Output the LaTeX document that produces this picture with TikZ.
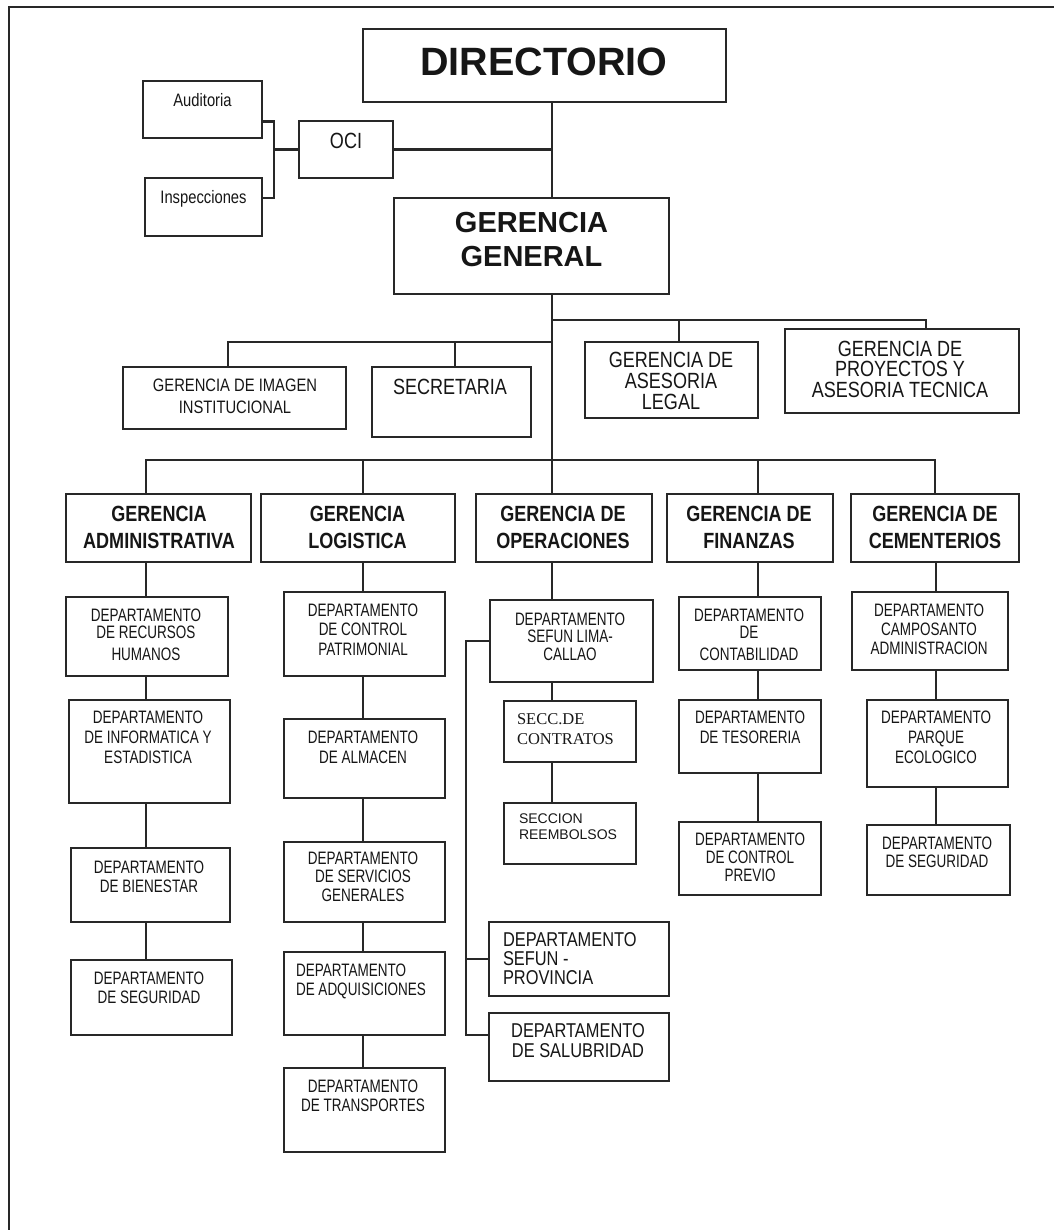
\documentclass[tikz,border=0pt]{standalone}
\usepackage{fontspec}
\usepackage{graphicx}
\setmainfont{Liberation Sans}
\newfontfamily\nar[FakeStretch=0.82]{Liberation Sans}
\newfontfamily\dnar[FakeStretch=0.75]{Liberation Sans}
\newfontfamily\ser{Liberation Serif}
\usetikzlibrary{fit}
\definecolor{lc}{RGB}{40,40,40}
\definecolor{tc}{RGB}{22,22,22}
\newcommand\fsz[2]{\fontsize{#1}{#2}\selectfont}
\newcommand\bx[5]{\node[box, fit={(#2,#3) (#4,#5)}] (#1) {};}
\begin{document}
\begin{tikzpicture}[x=1pt,y=-1pt,
  box/.style={draw=lc, line width=2.5pt, fill=white, inner sep=0pt, outer sep=0pt},
  conn/.style={draw=lc, line width=2.1pt},
  frame/.style={draw=lc, line width=2pt},
  txt/.style={inner sep=0pt, outer sep=0pt, text=tc, align=center, anchor=north},
  ltxt/.style={inner sep=0pt, outer sep=0pt, text=tc, align=left, anchor=north west},
  dept/.style={txt, font=\dnar\fsz{18}{19.5}},
  ger/.style={txt, font=\nar\bfseries\fsz{22}{27}}]
\useasboundingbox (0,0) rectangle (1054,1230);
\fill[white] (0,0) rectangle (1054,1230);
\draw[frame] (9,1230) -- (9,7) -- (1054,7);

% boxes
\bx{dir}{363}{29}{726}{102}
\bx{aud}{143}{81}{262}{138}
\bx{insp}{145}{178}{262}{236}
\bx{oci}{299}{121}{393}{178}
\bx{gg}{394}{198}{669}{294}
\bx{img}{123}{367}{346}{429}
\bx{sec}{372}{367}{531}{437}
\bx{leg}{585}{342}{758}{418}
\bx{proy}{785}{329}{1019}{413}
\bx{gadm}{66}{494}{251}{562}
\bx{glog}{261}{494}{455}{562}
\bx{gop}{476}{494}{652}{562}
\bx{gfin}{667}{494}{833}{562}
\bx{gcem}{851}{494}{1019}{562}
\bx{rrhh}{66}{597}{228}{676}
\bx{inf}{69}{700}{230}{803}
\bx{bien}{71}{848}{230}{922}
\bx{segA}{71}{960}{232}{1035}
\bx{cpat}{284}{592}{445}{676}
\bx{alm}{284}{719}{445}{798}
\bx{serv}{284}{842}{445}{922}
\bx{adq}{284}{952}{445}{1035}
\bx{trans}{284}{1068}{445}{1152}
\bx{sefun}{490}{600}{653}{682}
\bx{cont}{504}{701}{636}{762}
\bx{reemb}{504}{803}{636}{864}
\bx{prov}{489}{922}{669}{996}
\bx{salub}{489}{1013}{669}{1081}
\bx{contab}{679}{597}{821}{670}
\bx{teso}{679}{700}{821}{773}
\bx{cprev}{679}{822}{821}{895}
\bx{camp}{852}{592}{1008}{670}
\bx{parq}{867}{700}{1008}{787}
\bx{segC}{867}{825}{1010}{895}

% helper coordinates
\coordinate (tk) at (552,0);
\coordinate (ab) at (274,0);
\coordinate (j1) at (552,320);
\coordinate (j2) at (552,342);
\coordinate (j3) at (552,460);
\coordinate (cA) at (146,0);
\coordinate (cL) at (363,0);
\coordinate (cF) at (758,0);
\coordinate (cC) at (936,0);
\coordinate (cS) at (466,0);

% connectors top
\draw[conn] (dir.south -| tk) -- (gg.north -| tk);
\draw[conn] (oci.east) -- (oci.east -| tk);
\draw[conn] ([yshift=-12pt]aud.east) -| ([yshift=9pt]insp.east -| ab) -- ([yshift=9pt]insp.east);
\draw[conn] (oci.west) -- (oci.west -| ab);
\draw[conn] (gg.south -| tk) -- (j3);
\draw[conn] (j1) -| ([xshift=24pt]proy.north);
\draw[conn] ([xshift=7.5pt]leg.north) -- ([xshift=7.5pt]leg.north |- j1);
\draw[conn] (j2) -| ([xshift=-6.5pt]img.north);
\draw[conn] ([xshift=3.5pt]sec.north) -- ([xshift=3.5pt]sec.north |- j2);
\draw[conn] ([xshift=-12.5pt]gadm.north) |- (gcem.north |- j3) -- (gcem.north);
\draw[conn] ([xshift=5pt]glog.north) -- ([xshift=5pt]glog.north |- j3);
\draw[conn] (j3) -- (j3 |- gop.north);
\draw[conn] ([xshift=8pt]gfin.north) -- ([xshift=8pt]gfin.north |- j3);

% columns
\draw[conn] (gadm.south -| cA) -- (rrhh.north -| cA);
\draw[conn] (rrhh.south -| cA) -- (inf.north -| cA);
\draw[conn] (inf.south -| cA) -- (bien.north -| cA);
\draw[conn] (bien.south -| cA) -- (segA.north -| cA);
\draw[conn] (glog.south -| cL) -- (cpat.north -| cL);
\draw[conn] (cpat.south -| cL) -- (alm.north -| cL);
\draw[conn] (alm.south -| cL) -- (serv.north -| cL);
\draw[conn] (serv.south -| cL) -- (adq.north -| cL);
\draw[conn] (adq.south -| cL) -- (trans.north -| cL);
\draw[conn] (gop.south -| tk) -- (sefun.north -| tk);
\draw[conn] (sefun.south -| tk) -- (cont.north -| tk);
\draw[conn] (cont.south -| tk) -- (reemb.north -| tk);
\draw[conn] (sefun.west) -| ([yshift=12pt]salub.west -| cS) -- ([yshift=12pt]salub.west);
\draw[conn] (prov.west) -- (prov.west -| cS);
\draw[conn] (gfin.south -| cF) -- (contab.north -| cF);
\draw[conn] (contab.south -| cF) -- (teso.north -| cF);
\draw[conn] (teso.south -| cF) -- (cprev.north -| cF);
\draw[conn] (gcem.south -| cC) -- (camp.north -| cC);
\draw[conn] (camp.south -| cC) -- (parq.north -| cC);
\draw[conn] (parq.south -| cC) -- (segC.north -| cC);

% texts
\node[txt, font=\bfseries\fsz{39.5}{44}] (t-dir) at (544,47.6) {DIRECTORIO};
\node[txt, font=\bfseries\fsz{29}{34}] (t-gg) at (531.5,212.6) {GERENCIA\\GENERAL};
\node[txt, font=\nar\fsz{22}{26}] (t-oci) at (346,133) {OCI};
\node[txt, font=\nar\fsz{18}{22}] (t-aud) at (202.5,93.6) {Auditoria};
\node[txt, font=\nar\fsz{18}{22}] (t-insp) at (203.5,190.6) {Inspecciones};
\node[txt, font=\nar\fsz{18}{22}] (t-img) at (235,378.6) {GERENCIA DE IMAGEN\\INSTITUCIONAL};
\node[txt, font=\nar\fsz{22}{26}] (t-sec) at (450,379) {SECRETARIA};
\node[txt, font=\nar\fsz{22}{21}] (t-leg) at (671,352) {GERENCIA DE\\ASESORIA\\LEGAL};
\node[txt, font=\nar\fsz{22}{20.5}] (t-proy) at (900,341) {GERENCIA DE\\PROYECTOS Y\\ASESORIA TECNICA};

\node[ger] (t-gadm) at (159,506) {GERENCIA\\ADMINISTRATIVA};
\node[ger] (t-glog) at (357.5,506) {GERENCIA\\LOGISTICA};
\node[ger] (t-gop) at (563,506) {GERENCIA DE\\OPERACIONES};
\node[ger] (t-gfin) at (749,506) {GERENCIA DE\\FINANZAS};
\node[ger] (t-gcem) at (935,506) {GERENCIA DE\\CEMENTERIOS};

\node[dept, font=\dnar\fsz{18}{17.5}] (t-rrhh) at (146,608.5) {DEPARTAMENTO\\DE RECURSOS\\[4.5pt]HUMANOS};
\node[dept, font=\dnar\fsz{18}{20}] (t-inf) at (148,710.5) {DEPARTAMENTO\\DE INFORMATICA Y\\ESTADISTICA};
\node[dept, font=\dnar\fsz{18}{19}] (t-bien) at (149,860.5) {DEPARTAMENTO\\DE BIENESTAR};
\node[dept, font=\dnar\fsz{18}{19}] (t-segA) at (149,971.5) {DEPARTAMENTO\\DE SEGURIDAD};
\node[dept] (t-cpat) at (363,603.5) {DEPARTAMENTO\\DE CONTROL\\PATRIMONIAL};
\node[dept, font=\dnar\fsz{18}{20}] (t-alm) at (363,730.5) {DEPARTAMENTO\\DE ALMACEN};
\node[dept, font=\dnar\fsz{18}{18.5}] (t-serv) at (363,851.5) {DEPARTAMENTO\\DE SERVICIOS\\GENERALES};
\node[ltxt, font=\dnar\fsz{18}{19}] (t-adq) at (296,963.5) {DEPARTAMENTO\\DE ADQUISICIONES};
\node[dept, font=\dnar\fsz{18}{19}] (t-trans) at (363,1079.5) {DEPARTAMENTO\\DE TRANSPORTES};
\node[dept, font=\dnar\fsz{18}{17.5}] (t-sefun) at (570,612.5) {DEPARTAMENTO\\SEFUN LIMA-\\CALLAO};
\node[ltxt, font=\ser\fsz{16.5}{20}] (t-cont) at (517,713.7) {SECC.DE\\CONTRATOS};
\node[ltxt, font=\fsz{14}{16}] (t-reemb) at (519,814) {SECCION\\REEMBOLSOS};
\node[ltxt, font=\nar\fsz{20}{19}] (t-prov) at (503,933) {DEPARTAMENTO\\SEFUN -\\PROVINCIA};
\node[txt, font=\nar\fsz{20}{19.5}] (t-salub) at (578,1023.8) {DEPARTAMENTO\\DE SALUBRIDAD};
\node[dept, font=\dnar\fsz{18}{17.5}] (t-contab) at (749,608.5) {DEPARTAMENTO\\DE\\[4.5pt]CONTABILIDAD};
\node[dept, font=\dnar\fsz{18}{20}] (t-teso) at (750,710.5) {DEPARTAMENTO\\DE TESORERIA};
\node[dept, font=\dnar\fsz{18}{18}] (t-cprev) at (750,832.5) {DEPARTAMENTO\\DE CONTROL\\PREVIO};
\node[dept, font=\dnar\fsz{18}{19}] (t-camp) at (929,603.5) {DEPARTAMENTO\\CAMPOSANTO\\ADMINISTRACION};
\node[dept, font=\dnar\fsz{18}{20}] (t-parq) at (936,710.5) {DEPARTAMENTO\\PARQUE\\ECOLOGICO};
\node[dept, font=\dnar\fsz{18}{18.5}] (t-segC) at (937,836.5) {DEPARTAMENTO\\DE SEGURIDAD};
\end{tikzpicture}
\end{document}
